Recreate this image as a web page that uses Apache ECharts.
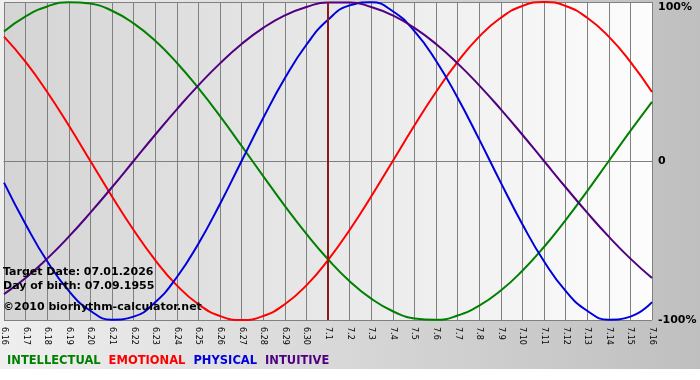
<!DOCTYPE html>
<html>
<head>
<meta charset="utf-8">
<script src="https://cdn.jsdelivr.net/npm/echarts@6/dist/echarts.min.js"></script>
<style>html,body{margin:0;padding:0;background:#fff;}#c{width:700px;height:380px;}</style>
</head>
<body>
<div id="c"></div>
<script>
const categories = ['6.16','6.17','6.18','6.19','6.20','6.21','6.22','6.23','6.24','6.25','6.26','6.27','6.28','6.29','6.30',
  '7.1','7.2','7.3','7.4','7.5','7.6','7.7','7.8','7.9','7.10','7.11','7.12','7.13','7.14','7.15','7.16'];
const intellectual = [81.5,91.0,97.2,99.9,99.0,94.5,86.6,75.6,61.8,45.8,28.2,9.5,-9.5,-28.2,-45.8,-61.8,-75.6,-86.6,-94.5,-99.0,-99.9,-97.2,-91.0,-81.5,-69.0,-54.1,-37.2,-18.9,0,18.9,37.2];
const emotional = [78.2,62.3,43.4,22.3,0,-22.3,-43.4,-62.3,-78.2,-90.1,-97.5,-100,-97.5,-90.1,-78.2,-62.3,-43.4,-22.3,0,22.3,43.4,62.3,78.2,90.1,97.5,100,97.5,90.1,78.2,62.3,43.4];
const physical = [-13.6,-39.8,-63.1,-81.7,-94.2,-99.8,-97.9,-88.8,-73.1,-52.0,-27.0,0,27.0,52.0,73.1,88.8,97.9,99.8,94.2,81.7,63.1,39.8,13.6,-13.6,-39.8,-63.1,-81.7,-94.2,-99.8,-97.9,-88.8];
const intuitive = [-83.7,-73.6,-61.4,-47.6,-32.5,-16.5,0,16.5,32.5,47.6,61.4,73.6,83.7,91.6,96.9,99.7,99.7,96.9,91.6,83.7,73.6,61.4,47.6,32.5,16.5,0,-16.5,-32.5,-47.6,-61.4,-73.6];
const yTicks = [-100, 0, 100];
const targetDay = '7.1';
const infoLines = ['Target Date: 07.01.2026', 'Day of birth: 07.09.1955', '\u00a92010 biorhythm-calculator.net'];

const FONT = 'DejaVu Sans';
const chart = echarts.init(document.getElementById('c'), null, {renderer: 'canvas'});

function mkSeries(name, data, color, extra) {
  return Object.assign({
    name: name, type: 'line', data: data, smooth: true, showSymbol: false,
    lineStyle: {color: color, width: 2}, itemStyle: {color: color}, silent: true
  }, extra || {});
}

const option = {
  animation: false,
  backgroundColor: '#ffffff',
  graphic: [
    {type: 'rect', z: -100, silent: true, shape: {x: 0, y: 0, width: 700, height: 369},
     style: {fill: new echarts.graphic.LinearGradient(0, 0, 1, 0, [{offset: 0, color: '#efefef'}, {offset: 1, color: '#bfbfbf'}])}},
    {type: 'text', left: 3, top: 267, z: 50, style: {text: infoLines[0], font: 'bold 11px ' + FONT, fill: '#000'}},
    {type: 'text', left: 3, top: 281, z: 50, style: {text: infoLines[1], font: 'bold 11px ' + FONT, fill: '#000'}},
    {type: 'text', left: 3, top: 302, z: 50, style: {text: infoLines[2], font: 'bold 11px ' + FONT, fill: '#000'}}
  ],
  grid: {
    left: 0, right: 48, top: 2, bottom: 60, show: true, borderWidth: 0,
    backgroundColor: new echarts.graphic.LinearGradient(0, 0, 1, 0, [{offset: 0, color: '#d4d4d4'}, {offset: 1, color: '#fdfdfd'}])
  },
  legend: {
    left: 2, top: 355, padding: 0, icon: 'none', itemWidth: 0, itemHeight: 12, itemGap: 3, selectedMode: false,
    textStyle: {fontFamily: FONT, fontWeight: 'bold', fontSize: 11.5},
    data: [
      {name: 'INTELLECTUAL', textStyle: {color: '#008000'}},
      {name: 'EMOTIONAL', textStyle: {color: '#ff0000'}},
      {name: 'PHYSICAL', textStyle: {color: '#0000dd'}},
      {name: 'INTUITIVE', textStyle: {color: '#500080'}}
    ]
  },
  xAxis: {
    type: 'category', data: categories, boundaryGap: false,
    axisLine: {show: true, lineStyle: {color: '#808080', width: 1}},
    axisTick: {show: true, length: 5, lineStyle: {color: '#808080'}},
    axisLabel: {interval: 0, rotate: -90, margin: 7, fontFamily: FONT, fontSize: 8, color: '#000'},
    splitLine: {show: true, lineStyle: {color: '#808080', width: 1}}
  },
  yAxis: {
    type: 'value', min: yTicks[0], max: yTicks[2], interval: 100, position: 'right',
    axisLine: {show: false}, axisTick: {show: false},
    axisLabel: {
      margin: 6, fontFamily: FONT, fontWeight: 'bold', fontSize: 11, color: '#000',
      formatter: function (v) {
        if (v === yTicks[2]) return '{t|' + v + '%}';
        if (v === 0) return '0';
        return v + '%';
      },
      rich: {t: {fontFamily: FONT, fontWeight: 'bold', fontSize: 11, color: '#000', padding: [10, 0, 0, 0]}}
    },
    splitLine: {show: true, lineStyle: {color: '#808080', width: 1}}
  },
  series: [
    mkSeries('INTELLECTUAL', intellectual, '#008000'),
    mkSeries('EMOTIONAL', emotional, '#ff0000'),
    mkSeries('PHYSICAL', physical, '#0000dd', {
      markLine: {silent: true, symbol: ['none', 'none'], label: {show: false},
        lineStyle: {color: '#8b1a1a', width: 2, type: 'solid'}, data: [{xAxis: targetDay}]}
    }),
    mkSeries('INTUITIVE', intuitive, '#500080')
  ]
};
chart.setOption(option);
</script>
</body>
</html>
